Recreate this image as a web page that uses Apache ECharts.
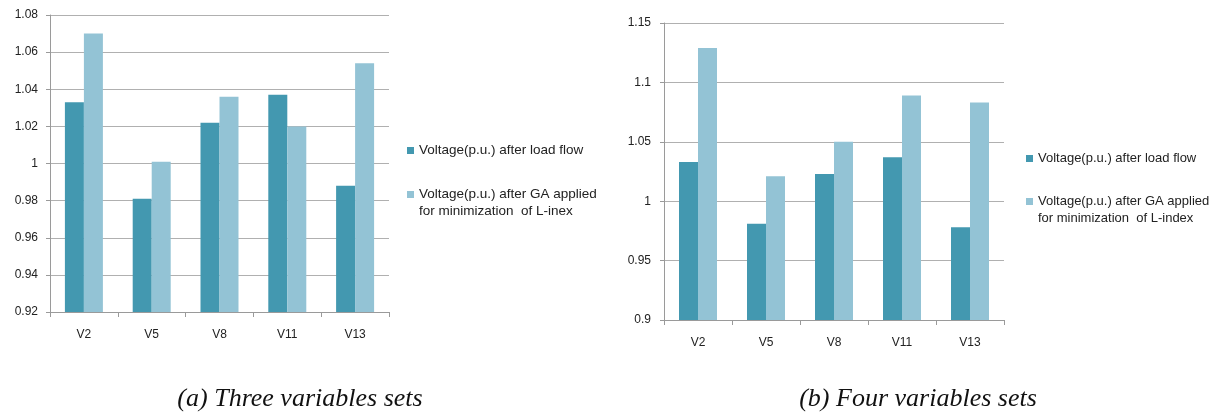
<!DOCTYPE html>
<html>
<head>
<meta charset="utf-8">
<script src="https://cdn.jsdelivr.net/npm/echarts@6/dist/echarts.min.js"></script>
<style>html,body{margin:0;padding:0;background:#fff}#c{width:1221px;height:412px}</style>
</head>
<body>
<div id="c"></div>
<script>
// ---- data ----
var categories = ['V2', 'V5', 'V8', 'V11', 'V13'];
var threeLoadFlow = [1.033, 0.981, 1.022, 1.037, 0.988];
var threeGA = [1.070, 1.001, 1.036, 1.020, 1.054];
var fourLoadFlow = [1.033, 0.981, 1.023, 1.037, 0.978];
var fourGA = [1.129, 1.021, 1.050, 1.089, 1.083];
var nameA1 = 'Voltage(p.u.) after load flow';
var nameA2 = 'Voltage(p.u.) after GA applied\nfor minimization  of L-inex';
var nameB1 = 'Voltage(p.u.) after load flow ';
var nameB2 = 'Voltage(p.u.) after GA applied\nfor minimization  of L-index';
var captionA = '(a) Three variables sets';
var captionB = '(b) Four variables sets';

var DARK = '#4398b0', LIGHT = '#93c3d5';
var GRIDC = '#b0b0b0', AXISC = '#9a9a9a';
var FONT = '"Liberation Sans", Arial, sans-serif';

function yAxis(gi, min, max, interval, margin) {
  return {
    type: 'value', gridIndex: gi, min: min, max: max, interval: interval,
    axisLine: {show: true, lineStyle: {color: AXISC, width: 1}},
    axisTick: {show: true, length: 4, lineStyle: {color: AXISC}},
    axisLabel: {color: '#222', fontSize: 12, fontFamily: FONT, margin: margin},
    splitLine: {show: true, lineStyle: {color: GRIDC, width: 1}}
  };
}
function xAxis(gi) {
  return {
    type: 'category', gridIndex: gi, data: categories,
    axisLine: {show: true, lineStyle: {color: AXISC, width: 1}},
    axisTick: {show: true, length: 5, alignWithLabel: false, lineStyle: {color: AXISC}},
    axisLabel: {color: '#222', fontSize: 12, fontFamily: FONT, margin: 17}
  };
}
function bar(name, data, gi, color) {
  return {
    type: 'bar', name: name, data: data, xAxisIndex: gi, yAxisIndex: gi,
    barWidth: 19, barGap: '0%', itemStyle: {color: color}, animation: false
  };
}
var lh = 17;
function legend(names, left, top, gap, fs) {
  return {
    orient: 'vertical', left: left, top: top, itemGap: gap, padding: 0,
    icon: 'rect', itemWidth: 7, itemHeight: 7,
    textStyle: {fontSize: fs, fontFamily: FONT, color: '#222', lineHeight: lh},
    data: [names[0], names[1]],
    formatter: function (n) {
      // blank leading line keeps the marker level with the first text line
      return n.indexOf('\n') >= 0 ? '\n' + n : n;
    }
  };
}

var chart = echarts.init(document.getElementById('c'), null, {renderer: 'canvas'});
chart.setOption({
  animation: false,
  grid: [
    {left: 50, right: 832, top: 15, bottom: 100},
    {left: 664, right: 217, top: 23, bottom: 92}
  ],
  xAxis: [xAxis(0), xAxis(1)],
  yAxis: [yAxis(0, 0.92, 1.08, 0.02, 12), yAxis(1, 0.9, 1.15, 0.05, 13)],
  legend: [
    legend([nameA1, nameA2], 407, 142, 10, 13.5),
    legend([nameB1, nameB2], 1026, 150, 9, 13)
  ],
  series: [
    bar(nameA1, threeLoadFlow, 0, DARK),
    bar(nameA2, threeGA, 0, LIGHT),
    bar(nameB1, fourLoadFlow, 1, DARK),
    bar(nameB2, fourGA, 1, LIGHT)
  ],
  graphic: [
    {type: 'text', x: 300, y: 399, style: {text: captionA, fill: '#111', font: 'italic 26px "Liberation Serif", serif', align: 'center', verticalAlign: 'middle'}},
    {type: 'text', x: 918, y: 399, style: {text: captionB, fill: '#111', font: 'italic 26px "Liberation Serif", serif', align: 'center', verticalAlign: 'middle'}}
  ]
});
</script>
</body>
</html>
